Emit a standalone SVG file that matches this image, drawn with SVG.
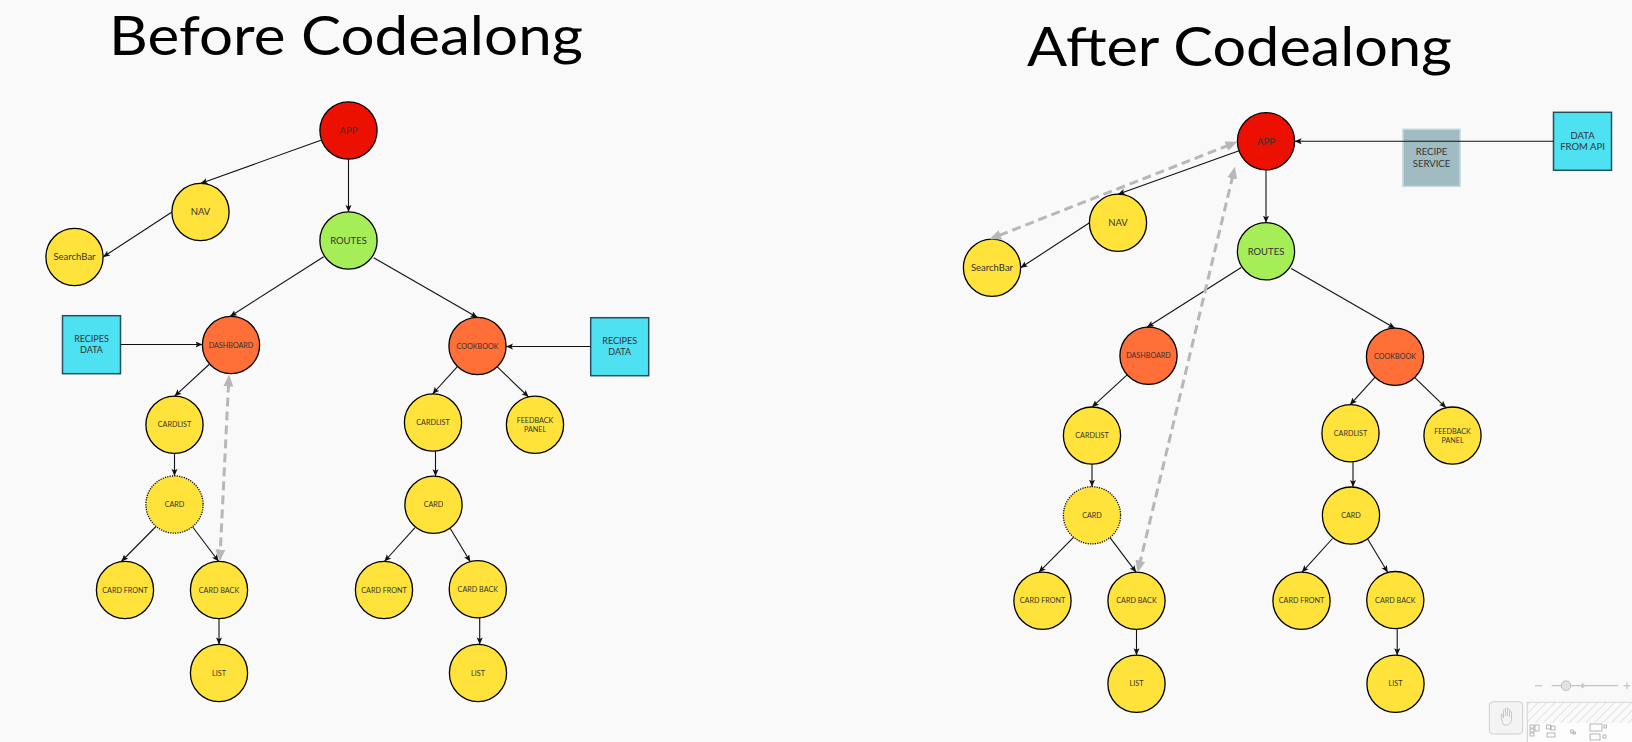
<svg xmlns="http://www.w3.org/2000/svg" width="1632" height="742" viewBox="0 0 1632 742">
<style>
.title{font-family:"Lato","Open Sans",sans-serif;font-weight:400;font-size:54px;fill:#000}
.n{stroke:#000;stroke-width:1.3}
.red{fill:#ec1000}
.green{fill:#a5ee57}
.orange{fill:#ff6f37}
.yellow{fill:#ffe33b}
.dot{stroke-dasharray:1.2 1.2}
.cyan{fill:#4ee1f1;stroke:#24505e;stroke-width:1.5}
.svc{fill:#a0bbc1;stroke:#c6d6da;stroke-width:1.5}
.t{font-family:"Lato","Liberation Sans",sans-serif;fill:#333;text-anchor:middle}
.s9{font-size:9.5px}
.s7{font-size:7.2px}
.e{stroke:#111;stroke-width:1.1;fill:none;marker-end:url(#ah)}
.d{stroke:#b7b7b7;stroke-width:3;fill:none;stroke-dasharray:9 5;marker-start:url(#dh);marker-end:url(#dh)}
.ui{fill:none;stroke:#c4c4c4;stroke-width:1.2}
</style>
<defs>
<marker id="ah" markerUnits="userSpaceOnUse" markerWidth="8" markerHeight="7" refX="7" refY="3" orient="auto" viewBox="0 0 8 7">
<path d="M0,0 L7,3 L0,6 L1.5,3 z" fill="#111"/>
</marker>
<marker id="dh" markerUnits="userSpaceOnUse" markerWidth="12" markerHeight="10" refX="3" refY="5" orient="auto-start-reverse" viewBox="0 0 12 10">
<path d="M0,0 L12,5 L0,10 z" fill="#b7b7b7"/>
</marker>
<pattern id="hatch" width="6" height="6" patternUnits="userSpaceOnUse" patternTransform="rotate(45)">
<rect width="6" height="6" fill="#fafafa"/>
<line x1="0" y1="0" x2="0" y2="6" stroke="#dcdcdc" stroke-width="1.5"/>
</pattern>
</defs>
<rect width="1632" height="742" fill="#f9f9f9"/>
<text class="title" x="109" y="55" textLength="474" lengthAdjust="spacingAndGlyphs">Before Codealong</text>
<text class="title" x="1027" y="65.7" textLength="425" lengthAdjust="spacingAndGlyphs">After Codealong</text>

<!-- BEFORE nodes -->
<g id="b-app"><circle class="n red" cx="348.5" cy="130.5" r="28.6"/><text class="t s9" x="348.5" y="133.9">APP</text></g>
<g id="b-nav"><circle class="n yellow" cx="200.5" cy="212" r="28.6"/><text class="t s9" x="200.5" y="215.4">NAV</text></g>
<g id="b-searchbar"><circle class="n yellow" cx="74.5" cy="257" r="28.6"/><text class="t s9" x="74.5" y="260.4">SearchBar</text></g>
<g id="b-routes"><circle class="n green" cx="348.5" cy="240.5" r="28.6"/><text class="t s9" x="348.5" y="243.9">ROUTES</text></g>
<g id="b-dashboard"><circle class="n orange" cx="231" cy="345" r="28.6"/><text class="t s7" x="231" y="347.6">DASHBOARD</text></g>
<g id="b-cookbook"><circle class="n orange" cx="477.5" cy="346" r="28.6"/><text class="t s7" x="477.5" y="348.6">COOKBOOK</text></g>
<g id="b-recipes-data-l"><rect class="cyan" x="62.5" y="315.7" width="58" height="58"/><text class="t" style="font-size:9px" x="91.5" y="341.9">RECIPES</text><text class="t" style="font-size:9px" x="91.5" y="352.5">DATA</text></g>
<g id="b-recipes-data-r"><rect class="cyan" x="590.7" y="317.7" width="58" height="58"/><text class="t" style="font-size:9px" x="619.7" y="343.9">RECIPES</text><text class="t" style="font-size:9px" x="619.7" y="354.5">DATA</text></g>
<g id="b-cardlist-l"><circle class="n yellow" cx="174.5" cy="424.8" r="28.6"/><text class="t s7" x="174.5" y="427.4">CARDLIST</text></g>
<g id="b-card-l"><circle class="n yellow dot" cx="174.5" cy="504.5" r="28.6"/><text class="t s7" x="174.5" y="507.1">CARD</text></g>
<g id="b-cardfront-l"><circle class="n yellow" cx="125" cy="590" r="28.6"/><text class="t s7" x="125" y="592.6">CARD FRONT</text></g>
<g id="b-cardback-l"><circle class="n yellow" cx="219" cy="590" r="28.6"/><text class="t s7" x="219" y="592.6">CARD BACK</text></g>
<g id="b-list-l"><circle class="n yellow" cx="219" cy="673" r="28.6"/><text class="t s7" x="219" y="675.6">LIST</text></g>
<g id="b-cardlist-r"><circle class="n yellow" cx="433" cy="422.5" r="28.6"/><text class="t s7" x="433" y="425.1">CARDLIST</text></g>
<g id="b-feedback"><circle class="n yellow" cx="535" cy="424.8" r="28.6"/><text class="t s7" x="535" y="422.9">FEEDBACK</text><text class="t s7" x="535" y="431.9">PANEL</text></g>
<g id="b-card-r"><circle class="n yellow" cx="433.5" cy="504.8" r="28.6"/><text class="t s7" x="433.5" y="507.4">CARD</text></g>
<g id="b-cardfront-r"><circle class="n yellow" cx="384" cy="590" r="28.6"/><text class="t s7" x="384" y="592.6">CARD FRONT</text></g>
<g id="b-cardback-r"><circle class="n yellow" cx="477.8" cy="589.3" r="28.6"/><text class="t s7" x="477.8" y="591.9">CARD BACK</text></g>
<g id="b-list-r"><circle class="n yellow" cx="478" cy="673" r="28.6"/><text class="t s7" x="478" y="675.6">LIST</text></g>

<!-- AFTER nodes -->
<g id="a-app"><circle class="n red" cx="1266" cy="141.3" r="28.6"/><text class="t s9" x="1266" y="144.7">APP</text></g>
<g id="a-nav"><circle class="n yellow" cx="1118" cy="222.8" r="28.6"/><text class="t s9" x="1118" y="226.2">NAV</text></g>
<g id="a-searchbar"><circle class="n yellow" cx="992" cy="267.8" r="28.6"/><text class="t s9" x="992" y="271.2">SearchBar</text></g>
<g id="a-routes"><circle class="n green" cx="1266" cy="251.3" r="28.6"/><text class="t s9" x="1266" y="254.7">ROUTES</text></g>
<g id="a-dashboard"><circle class="n orange" cx="1148.5" cy="355.8" r="28.6"/><text class="t s7" x="1148.5" y="358.4">DASHBOARD</text></g>
<g id="a-cookbook"><circle class="n orange" cx="1395" cy="356.8" r="28.6"/><text class="t s7" x="1395" y="359.4">COOKBOOK</text></g>
<g id="a-recipe-service"><rect class="svc" x="1403" y="129.3" width="57" height="57"/><text class="t s9" x="1431.5" y="155">RECIPE</text><text class="t s9" x="1431.5" y="166.6">SERVICE</text></g>
<g id="a-data-from-api"><rect class="cyan" x="1553.5" y="112.3" width="58" height="58"/><text class="t s9" x="1582.5" y="138.9">DATA</text><text class="t s9" x="1582.5" y="149.9">FROM API</text></g>
<g id="a-cardlist-l"><circle class="n yellow" cx="1092" cy="435.6" r="28.6"/><text class="t s7" x="1092" y="438.2">CARDLIST</text></g>
<g id="a-card-l"><circle class="n yellow dot" cx="1092" cy="515.3" r="28.6"/><text class="t s7" x="1092" y="517.9">CARD</text></g>
<g id="a-cardfront-l"><circle class="n yellow" cx="1042.5" cy="600.8" r="28.6"/><text class="t s7" x="1042.5" y="603.4">CARD FRONT</text></g>
<g id="a-cardback-l"><circle class="n yellow" cx="1136.5" cy="600.8" r="28.6"/><text class="t s7" x="1136.5" y="603.4">CARD BACK</text></g>
<g id="a-list-l"><circle class="n yellow" cx="1136.5" cy="683.8" r="28.6"/><text class="t s7" x="1136.5" y="686.4">LIST</text></g>
<g id="a-cardlist-r"><circle class="n yellow" cx="1350.5" cy="433.3" r="28.6"/><text class="t s7" x="1350.5" y="435.9">CARDLIST</text></g>
<g id="a-feedback"><circle class="n yellow" cx="1452.5" cy="435.6" r="28.6"/><text class="t s7" x="1452.5" y="433.7">FEEDBACK</text><text class="t s7" x="1452.5" y="442.7">PANEL</text></g>
<g id="a-card-r"><circle class="n yellow" cx="1351" cy="515.6" r="28.6"/><text class="t s7" x="1351" y="518.2">CARD</text></g>
<g id="a-cardfront-r"><circle class="n yellow" cx="1301.5" cy="600.8" r="28.6"/><text class="t s7" x="1301.5" y="603.4">CARD FRONT</text></g>
<g id="a-cardback-r"><circle class="n yellow" cx="1395.3" cy="600.1" r="28.6"/><text class="t s7" x="1395.3" y="602.7">CARD BACK</text></g>
<g id="a-list-r"><circle class="n yellow" cx="1395.5" cy="683.8" r="28.6"/><text class="t s7" x="1395.5" y="686.4">LIST</text></g>

<g id="connectors">
<!-- before -->
<line class="e" x1="321.6" y1="140" x2="200.5" y2="183.5"/>
<line class="e" x1="348.5" y1="159.1" x2="348.5" y2="212"/>
<line class="e" x1="172" y1="212" x2="103" y2="257"/>
<line class="e" x1="323.7" y1="256.7" x2="230" y2="316.5"/>
<line class="e" x1="373.7" y1="257.7" x2="477.5" y2="317.5"/>
<line class="e" x1="120.5" y1="344.5" x2="202.5" y2="344.5"/>
<line class="e" x1="590.7" y1="346.5" x2="506" y2="346.5"/>
<line class="e" x1="209.6" y1="364" x2="174.5" y2="396.3"/>
<line class="e" x1="457.6" y1="366.4" x2="432.5" y2="394"/>
<line class="e" x1="497" y1="366.6" x2="528.6" y2="397"/>
<line class="e" x1="174.5" y1="453.4" x2="174.5" y2="475.9"/>
<line class="e" x1="156" y1="526.5" x2="121.3" y2="561.5"/>
<line class="e" x1="192.7" y1="527" x2="218.7" y2="561.5"/>
<line class="e" x1="219" y1="618.6" x2="219" y2="644.4"/>
<line class="e" x1="435.5" y1="450.8" x2="435.5" y2="476.2"/>
<line class="e" x1="415" y1="527.7" x2="384.4" y2="561.5"/>
<line class="e" x1="450" y1="528" x2="470.3" y2="561.7"/>
<line class="e" x1="479.7" y1="617.8" x2="479.7" y2="644.4"/>
<line class="d" x1="228.56" y1="383.49" x2="220.24" y2="552.51"/>
<!-- after -->
<line class="e" x1="1553.5" y1="141.3" x2="1294.6" y2="141.3"/>
<line class="e" x1="1239.1" y1="150.8" x2="1118" y2="194.3"/>
<line class="e" x1="1266" y1="169.9" x2="1266" y2="222.8"/>
<line class="e" x1="1089.5" y1="222.8" x2="1020.5" y2="267.8"/>
<line class="e" x1="1241.2" y1="267.5" x2="1147" y2="327.3"/>
<line class="e" x1="1291.2" y1="268.5" x2="1395" y2="328.3"/>
<line class="e" x1="1127.1" y1="374.8" x2="1092" y2="407.1"/>
<line class="e" x1="1375.1" y1="377.2" x2="1350" y2="404.8"/>
<line class="e" x1="1414.5" y1="377.4" x2="1446.1" y2="407.8"/>
<line class="e" x1="1092" y1="464.2" x2="1092" y2="486.7"/>
<line class="e" x1="1073.5" y1="537.3" x2="1038.8" y2="572.3"/>
<line class="e" x1="1110.2" y1="537.8" x2="1136.2" y2="572.3"/>
<line class="e" x1="1136.5" y1="629.4" x2="1136.5" y2="655.2"/>
<line class="e" x1="1353" y1="461.6" x2="1353" y2="487"/>
<line class="e" x1="1332.5" y1="538.5" x2="1301.9" y2="572.3"/>
<line class="e" x1="1367.5" y1="538.8" x2="1387.8" y2="572.5"/>
<line class="e" x1="1397.2" y1="628.6" x2="1397.2" y2="655.2"/>
<line class="d" x1="1229.12" y1="144.99" x2="997.68" y2="236.01"/>
<line class="d" x1="1232.9" y1="175.45" x2="1139.7" y2="563.75"/>
</g>

<g id="ui-controls">
<line class="ui" x1="1535" y1="685.7" x2="1542" y2="685.7" stroke-width="1.6"/>
<line class="ui" x1="1551.7" y1="685.7" x2="1618" y2="685.7" stroke-width="0.8"/>
<circle cx="1566" cy="685.7" r="4.8" fill="#e2e2e2" stroke="#b0b0b0" stroke-width="0.8"/>
<path d="M1582.7,683 L1585.2,685.7 L1582.7,688.4 L1580.2,685.7 z" fill="#c8c8c8"/>
<line class="ui" x1="1623.5" y1="685.7" x2="1630.5" y2="685.7" stroke-width="1.6"/>
<line class="ui" x1="1627" y1="682.2" x2="1627" y2="689.2" stroke-width="1.6"/>
<rect x="1489.3" y="701.7" width="33.4" height="32.3" rx="4" fill="#f3f3f3" stroke="#cfcfcf" stroke-width="1"/>
<path d="M1503,724 L1501,716 Q1500.5,714 1502,714 L1503.5,718 L1503.5,710 Q1504.5,708.5 1505.5,710 L1505.5,716 L1505.5,708.5 Q1506.5,707 1507.5,708.5 L1507.5,716 L1507.5,709.5 Q1508.5,708 1509.5,709.5 L1509.5,717 L1509.5,712 Q1510.5,710.5 1511.5,712 L1511.5,720 Q1511,724 1508,725 L1504,725 z" fill="none" stroke="#c4c4c4" stroke-width="0.9"/>
<rect x="1527.3" y="702.3" width="110" height="45" fill="#fdfdfd" stroke="#cfcfcf" stroke-width="1"/>
<rect x="1527.8" y="702.8" width="110" height="20" fill="url(#hatch)"/>
<g fill="none" stroke="#9a9a9a" stroke-width="0.7">
<rect x="1530" y="725" width="4" height="3"/><rect x="1530" y="729" width="4" height="3"/><rect x="1530" y="733" width="4" height="3"/>
<rect x="1535" y="725" width="4" height="6"/>
<rect x="1546.7" y="725" width="4" height="4"/><rect x="1551" y="726" width="4" height="4"/>
<rect x="1547" y="733" width="8" height="4"/>
<rect x="1570.7" y="730" width="2.5" height="3"/><rect x="1573" y="732" width="2.5" height="2"/>
<rect x="1590" y="724" width="12" height="7"/>
<rect x="1590" y="734" width="10" height="6"/>
<rect x="1604" y="725" width="2.5" height="3"/><rect x="1603" y="735" width="3" height="3"/>
</g>
</g>
</svg>
